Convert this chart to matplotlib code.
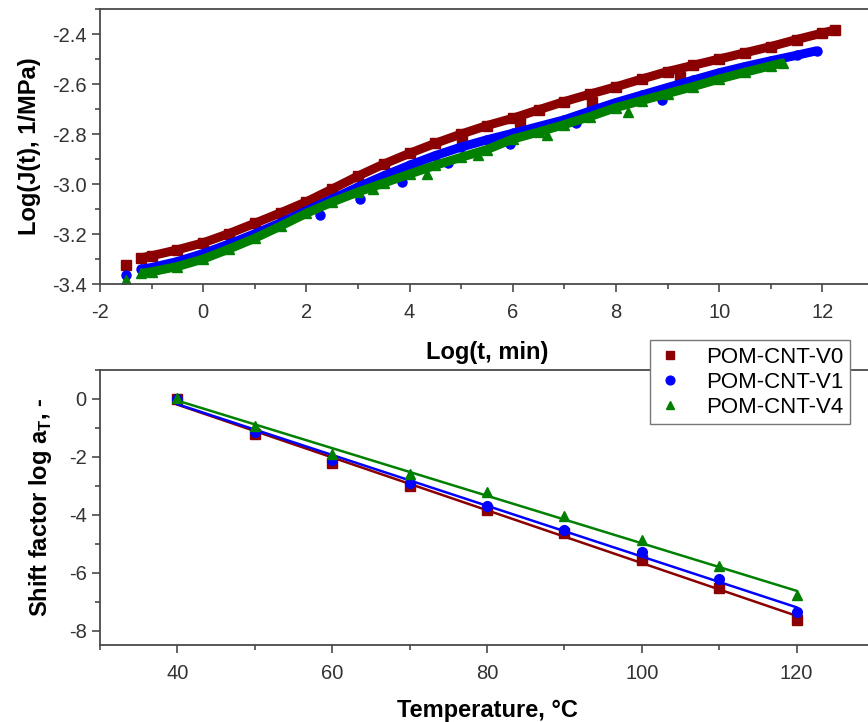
import numpy as np
import matplotlib
matplotlib.use("Agg")
import matplotlib.pyplot as plt
from matplotlib.ticker import MultipleLocator, FormatStrFormatter

plt.rcParams['font.family'] = ['Liberation Sans', 'DejaVu Sans']
plt.rcParams['axes.unicode_minus'] = False
plt.rcParams['mathtext.fontset'] = 'custom'
plt.rcParams['mathtext.rm'] = 'Liberation Sans'
plt.rcParams['mathtext.bf'] = 'Liberation Sans:bold'

names = ['POM-CNT-V0', 'POM-CNT-V1', 'POM-CNT-V4']
colors = ['#8B0000', '#0000FF', '#008000']
markers = ['s', 'o', '^']

# master curves, Log(J(t)) vs Log(t)
x_v0 = [-1.2, -1.0, -0.5, 0.0, 0.5, 1.0, 1.5, 2.0, 2.5, 3.0, 3.5, 4.0, 4.5, 5.0, 5.5,
        6.0, 6.5, 7.0, 7.5, 8.0, 8.5, 9.0, 9.5, 10.0, 10.5, 11.0, 11.5, 12.0, 12.24]
y_v0 = [-3.295, -3.287, -3.263, -3.235, -3.198, -3.157, -3.115, -3.071, -3.020, -2.968,
        -2.920, -2.877, -2.837, -2.800, -2.766, -2.737, -2.703, -2.670, -2.640, -2.611,
        -2.580, -2.550, -2.525, -2.500, -2.475, -2.450, -2.422, -2.396, -2.384]

x_v1 = [-1.2, -1.0, -0.5, 0.0, 0.5, 1.0, 1.5, 2.0, 2.5, 3.0, 3.5, 4.0, 4.5, 5.0, 5.5,
        6.0, 6.5, 7.0, 7.5, 8.0, 8.5, 9.0, 9.5, 10.0, 10.5, 11.0, 11.5, 11.89]
y_v1 = [-3.340, -3.334, -3.310, -3.278, -3.240, -3.199, -3.155, -3.107, -3.060, -3.012,
        -2.967, -2.925, -2.886, -2.852, -2.823, -2.797, -2.770, -2.743, -2.708, -2.674,
        -2.644, -2.614, -2.584, -2.555, -2.530, -2.507, -2.485, -2.467]

x_v4 = [-1.2, -1.0, -0.5, 0.0, 0.5, 1.0, 1.5, 2.0, 2.5, 3.0, 3.5, 4.0, 4.5, 5.0, 5.5,
        6.0, 6.5, 7.0, 7.5, 8.0, 8.5, 9.0, 9.5, 10.0, 10.5, 11.0, 11.24]
y_v4 = [-3.357, -3.351, -3.330, -3.300, -3.260, -3.217, -3.168, -3.117, -3.072, -3.032,
        -2.996, -2.960, -2.925, -2.893, -2.862, -2.820, -2.792, -2.762, -2.730, -2.694,
        -2.666, -2.638, -2.610, -2.580, -2.553, -2.527, -2.515]

# first points of the shifted segments (sit off the master curve)
sx_v0 = [-1.5, 5.01, 6.14, 7.53, 9.24]
sy_v0 = [-3.324, -2.822, -2.752, -2.672, -2.570]
sx_v1 = [-1.5, 2.26, 3.04, 3.85, 4.75, 5.95, 7.23, 8.90]
sy_v1 = [-3.364, -3.124, -3.059, -2.990, -2.917, -2.841, -2.757, -2.664]
sx_v4 = [-1.5, 3.30, 4.33, 5.33, 6.66, 8.24]
sy_v4 = [-3.384, -3.020, -2.958, -2.884, -2.804, -2.711]

# shift factors vs temperature
temps = [40, 50, 60, 70, 80, 90, 100, 110, 120]
at_v0 = [0.0, -1.22, -2.20, -3.00, -3.84, -4.64, -5.55, -6.52, -7.62]
at_v1 = [0.0, -1.13, -2.11, -2.90, -3.70, -4.51, -5.28, -6.21, -7.36]
at_v4 = [0.05, -0.93, -1.90, -2.60, -3.21, -4.05, -4.88, -5.78, -6.78]

curves = [(x_v0, y_v0, sx_v0, sy_v0), (x_v1, y_v1, sx_v1, sy_v1), (x_v4, y_v4, sx_v4, sy_v4)]
shifts = [at_v0, at_v1, at_v4]

fig = plt.figure(figsize=(8.68, 7.22), dpi=100)
ax1 = fig.add_axes([0.1152, 0.6066, 0.8917, 0.3809])
ax2 = fig.add_axes([0.1152, 0.1066, 0.8917, 0.3809])

for (x, y, sx, sy), c, m in zip(curves, colors, markers):
    ax1.plot(x, y, color=c, lw=6.5, solid_capstyle='butt', marker=m, ms=6.5,
             mec=c, mfc=c)
    ax1.plot(sx, sy, ls='none', marker=m, ms=6.5, color=c)

t = np.array(temps)
for a, c, m, lab in zip(shifts, colors, markers, names):
    ax2.plot(temps, a, ls='none', marker=m, ms=7, color=c, label=lab)
    k, b = np.polyfit(t, a, 1)
    ax2.plot(t, k * t + b, color=c, lw=1.8)

spine_col = '#4a4a4a'
for ax in (ax1, ax2):
    for s in ax.spines.values():
        s.set_color(spine_col)
        s.set_linewidth(1.3)
    ax.tick_params(which='both', direction='out', colors=spine_col, labelcolor='#333333',
                   labelsize=14.5, width=1.2)
    ax.tick_params(which='major', length=6)
    ax.tick_params(which='minor', length=3.5)
    ax.tick_params(axis='x', which='major', pad=8)

ax1.set_xlim(-2, 13)
ax1.set_ylim(-3.4, -2.3)
ax1.xaxis.set_major_locator(MultipleLocator(2))
ax1.xaxis.set_minor_locator(MultipleLocator(1))
ax1.yaxis.set_major_locator(MultipleLocator(0.2))
ax1.yaxis.set_minor_locator(MultipleLocator(0.1))
ax1.yaxis.set_major_formatter(FormatStrFormatter('%.1f'))
ax1.set_xlabel('Log(t, min)', fontsize=17, fontweight='bold', labelpad=13)
ax1.set_ylabel('Log(J(t), 1/MPa)', fontsize=17, fontweight='bold', labelpad=8)

ax2.set_xlim(30, 130)
ax2.set_ylim(-8.5, 1)
ax2.xaxis.set_major_locator(MultipleLocator(20))
ax2.xaxis.set_minor_locator(MultipleLocator(10))
ax2.yaxis.set_major_locator(MultipleLocator(2))
ax2.yaxis.set_minor_locator(MultipleLocator(1))
ax2.set_xlabel('Temperature, °C', fontsize=17, fontweight='bold', labelpad=11)
ax2.set_ylabel(r'Shift factor log a$_\mathregular{T}$, -', fontsize=17,
               fontweight='bold', labelpad=11)

leg = fig.legend(*ax2.get_legend_handles_labels(), loc='upper left',
                 bbox_to_anchor=(0.749, 0.529), borderaxespad=0, fontsize=16,
                 frameon=True, fancybox=False, edgecolor='#777777', framealpha=1,
                 handlelength=1.2, handletextpad=1.0, labelspacing=0.18,
                 borderpad=0.3, markerscale=0.9)
leg.get_frame().set_linewidth(1.0)

fig.savefig('out.png', dpi=100)
